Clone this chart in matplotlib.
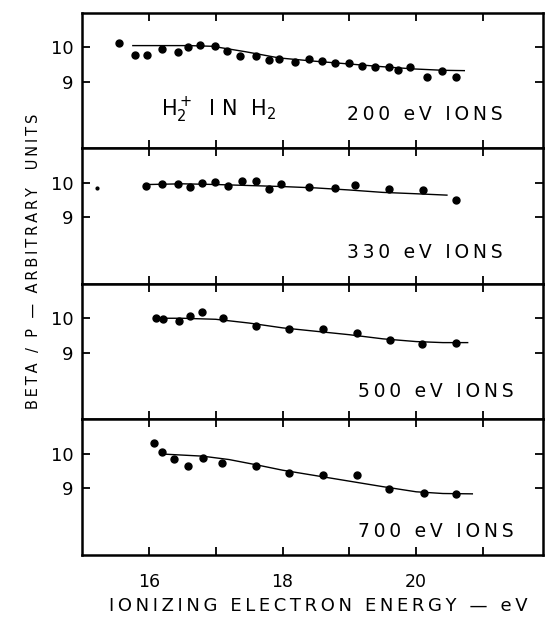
import matplotlib.pyplot as plt
import numpy as np

# measured points, one set per ion energy
x200 = [15.56, 15.79, 15.97, 16.19, 16.43, 16.58, 16.77, 16.99, 17.17, 17.37, 17.60, 17.80, 17.95,
        18.18, 18.39, 18.59, 18.79, 18.99, 19.19, 19.39, 19.59, 19.73, 19.91, 20.16, 20.38, 20.59]
y200 = [10.14, 9.79, 9.79, 9.95, 9.87, 10.01, 10.06, 10.05, 9.88, 9.76, 9.74, 9.63, 9.66,
        9.58, 9.65, 9.61, 9.55, 9.54, 9.46, 9.42, 9.42, 9.34, 9.42, 9.12, 9.31, 9.14]
cx200 = [15.76, 16.2, 16.6, 16.95, 17.45, 17.95, 18.45, 18.96, 19.46, 19.96, 20.4, 20.72]
cy200 = [10.05, 10.05, 10.05, 10.03, 9.87, 9.69, 9.60, 9.52, 9.44, 9.37, 9.33, 9.32]

x330 = [15.95, 16.20, 16.44, 16.61, 16.80, 16.99, 17.19, 17.40, 17.61, 17.80, 17.98,
        18.39, 18.79, 19.09, 19.60, 20.10, 20.59]
y330 = [9.90, 9.97, 9.97, 9.87, 9.99, 10.02, 9.90, 10.06, 10.05, 9.82, 9.97,
        9.87, 9.84, 9.95, 9.82, 9.78, 9.50]
cx330 = [16.0, 16.5, 17.0, 17.5, 18.0, 18.5, 19.0, 19.5, 20.0, 20.46]
cy330 = [9.95, 9.97, 9.95, 9.92, 9.89, 9.85, 9.79, 9.72, 9.68, 9.64]
stray_x = [15.23]
stray_y = [9.86]

x500 = [16.11, 16.21, 16.45, 16.61, 16.80, 17.11, 17.60, 18.09, 18.60, 19.11, 19.61, 20.09, 20.60]
y500 = [10.00, 9.98, 9.91, 10.08, 10.19, 10.00, 9.77, 9.68, 9.68, 9.57, 9.36, 9.24, 9.29]
cx500 = [16.11, 16.5, 17.0, 17.5, 18.0, 18.5, 19.0, 19.5, 20.0, 20.4, 20.77]
cy500 = [10.0, 10.0, 9.97, 9.86, 9.72, 9.62, 9.52, 9.40, 9.32, 9.29, 9.29]

x700 = [16.07, 16.20, 16.38, 16.59, 16.81, 17.10, 17.60, 18.10, 18.60, 19.12, 19.60, 20.11, 20.60]
y700 = [10.32, 10.04, 9.85, 9.63, 9.87, 9.73, 9.65, 9.45, 9.37, 9.37, 8.98, 8.85, 8.82]
cx700 = [16.21, 16.8, 17.2, 17.6, 18.0, 18.5, 19.0, 19.5, 20.0, 20.4, 20.84]
cy700 = [9.99, 9.93, 9.83, 9.68, 9.52, 9.36, 9.20, 9.04, 8.89, 8.84, 8.83]

labels = ['200 eV IONS', '330 eV IONS', '500 eV IONS', '700 eV IONS']
label_x = [21.29, 21.29, 21.46, 21.46]
label_y = [8.04, 7.96, 7.87, 7.74]

panels = [(x200, y200, cx200, cy200), (x330, y330, cx330, cy330),
          (x500, y500, cx500, cy500), (x700, y700, cx700, cy700)]


def spaced(s, sep='\u2009'):
    # old lettering-guide look: a bit of air between letters
    return sep.join(s)


fig = plt.figure(figsize=(5.47, 6.2), dpi=100)
left, right, top, bottom = 0.150, 0.993, 0.979, 0.105
h = (top - bottom) / 4

axes = []
for i, (px, py, cx, cy) in enumerate(panels):
    ax = fig.add_axes([left, top - (i + 1) * h, right - left, h])
    ax.plot(cx, cy, color='black', lw=1.0)
    ax.plot(px, py, 'o', color='black', ms=5)
    ax.set_xlim(15.0, 21.9)
    ax.set_ylim(7.05, 11.0)
    ax.set_xticks([16, 17, 18, 19, 20, 21])
    ax.set_yticks([9, 10])
    ax.set_yticklabels(['9', '10'], fontsize=13)
    ax.tick_params(direction='in', top=True, right=True, length=6, width=1.3)
    ax.tick_params(axis='y', pad=6)
    ax.tick_params(axis='x', pad=13)
    if i < 3:
        ax.set_xticklabels([])
    else:
        ax.set_xticklabels(['16', '', '18', '', '20', ''], fontsize=12.5)
    for s in ax.spines.values():
        s.set_linewidth(1.8)
    ax.text(label_x[i], label_y[i], spaced(labels[i]), fontsize=13.5,
            ha='right', va='center')
    axes.append(ax)

axes[0].text(17.04, 8.17, r'H$_2^+$  I N  H$_2$', fontsize=15, ha='center', va='center')
axes[1].plot(stray_x, stray_y, 'o', color='black', ms=2)

fig.text(0.061, 0.578, spaced('BETA / P \u2014 ARBITRARY  UNITS'), rotation=90,
         fontsize=10.5, ha='center', va='center')
fig.text(0.582, 0.022, spaced('IONIZING ELECTRON ENERGY \u2014 eV'), fontsize=13,
         ha='center', va='center')

plt.savefig('out.png', format='png')
